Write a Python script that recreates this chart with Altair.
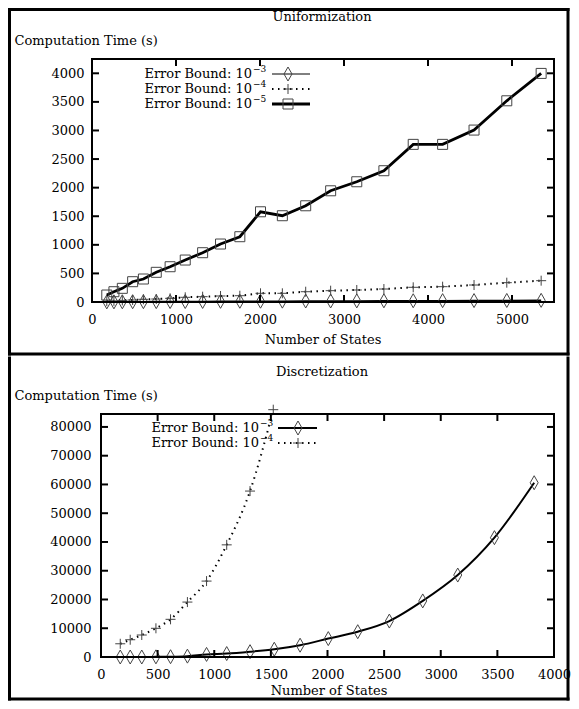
import altair as alt
import pandas as pd

FONT = "DejaVu Serif"
FS = 13

# ---------------- data: Uniformization (top panel) ----------------
uni_states = [176, 261, 361, 484, 612, 765, 930, 1110, 1317, 1530, 1760,
              2006, 2266, 2544, 2841, 3152, 3475, 3824, 4174, 4548, 4938, 5347]
uni_e3 = [2, 3, 4, 5, 6, 7, 8, 9, 10, 12, 13, 14, 15, 17, 18, 19, 21, 22, 24, 25, 27, 29]
uni_e4 = [15, 20, 28, 35, 47, 52, 64, 82, 93, 105, 110, 152, 152, 180, 198, 210,
          227, 257, 268, 297, 338, 373]
uni_e5 = [122, 180, 239, 355, 402, 519, 617, 734, 862, 1014, 1142, 1578, 1509,
          1683, 1945, 2103, 2296, 2757, 2757, 3007, 3519, 3998]
uni_xticks = [0, 1000, 2000, 3000, 4000, 5000]
uni_yticks = [0, 500, 1000, 1500, 2000, 2500, 3000, 3500, 4000]

# ---------------- data: Discretization (bottom panel) ----------------
disc_states = [170, 258, 360, 485, 614, 763, 932, 1110, 1316, 1530, 1758, 2007,
               2267, 2546, 2841, 3150, 3474, 3825]
disc_e3 = [0, 0, 0, 50, 100, 300, 900, 1200, 1850, 2700, 4100, 6400, 8800,
           12500, 19500, 28500, 41500, 60600]
disc_e4_states = [170, 258, 360, 485, 614, 763, 932, 1110, 1316, 1521]
disc_e4 = [4600, 6000, 7650, 9980, 13100, 19100, 26400, 39000, 57700, 86000]
disc_xticks = [0, 500, 1000, 1500, 2000, 2500, 3000, 3500, 4000]
disc_yticks = [0, 10000, 20000, 30000, 40000, 50000, 60000, 70000, 80000]

DIAMOND = "M0,-1L0.57,0L0,1L-0.57,0Z"
PLUS = "M-1,0L1,0M0,-1L0,1"
MCOL = "#444444"
one = pd.DataFrame({"a": [0]})


def txt(s, x, y, size=FS, align="center"):
    return alt.Chart(one).mark_text(text=s, font=FONT, fontSize=size, align=align,
                                    baseline="middle", color="black").encode(
        x=alt.value(x), y=alt.value(y))


def hrule(x1, x2, y, w=2):
    return alt.Chart(one).mark_rule(color="black", strokeWidth=w, strokeCap="square").encode(
        x=alt.value(x1), x2=alt.value(x2), y=alt.value(y))


def vrule(x, y1, y2, w=2):
    return alt.Chart(one).mark_rule(color="black", strokeWidth=w, strokeCap="square").encode(
        x=alt.value(x), y=alt.value(y1), y2=alt.value(y2))


def bar(x1, x2, y1, y2):
    # filled rectangle (no stroke) so that layout bounds are exact
    return alt.Chart(one).mark_rect(color="black", strokeWidth=0).encode(
        x=alt.value(x1), x2=alt.value(x2), y=alt.value(y1), y2=alt.value(y2))


def legend_row(label, sup, y, text_end, lx1, lx2, sx, shape, size, dash=None, lw=1.5):
    layers = [
        txt(label, text_end, y, align="right"),
        txt(sup, text_end + 1, y - 5, size=9, align="left"),
    ]
    lk = dict(color="black", strokeWidth=lw)
    if dash:
        lk["strokeDash"] = dash
    layers.append(alt.Chart(one).mark_rule(**lk).encode(
        x=alt.value(lx1), x2=alt.value(lx2), y=alt.value(y)))
    layers.append(alt.Chart(one).mark_point(shape=shape, size=size, filled=False, color=MCOL,
                                            strokeWidth=1, opacity=1).encode(
        x=alt.value(sx), y=alt.value(y)))
    return layers


def panel(W, H, x0, xdom, ydom, xticks, yticks, series, title, legend, frame,
          xtitle_x, ylabpad, top_panel):
    xs = alt.Scale(domain=xdom, nice=False, zero=False, range=[x0, W])
    ys = alt.Scale(domain=ydom, nice=False, zero=False)
    xaxis = alt.Axis(values=xticks, ticks=False, domain=False, grid=False, labelFont=FONT,
                     labelFontSize=FS, labelColor="black", labelPadding=11, title=None,
                     format="d", labelFlush=False, labelOverlap=False)
    yaxis = alt.Axis(values=yticks, ticks=False, domain=False, grid=False, labelFont=FONT,
                     labelFontSize=FS, labelColor="black", labelPadding=ylabpad, title=None,
                     format="d", labelOverlap=False)
    X = alt.X("states:Q", scale=xs, axis=xaxis)
    Y = alt.Y("time:Q", scale=ys, axis=yaxis)
    layers = []
    for s in series:
        df = pd.DataFrame({"states": s["x"], "time": s["y"]})
        lk = dict(color="black", strokeWidth=s["lw"], interpolate=s["interp"], clip=True)
        if s.get("dash"):
            lk["strokeDash"] = s["dash"]
        layers.append(alt.Chart(df).mark_line(**lk).encode(x=X, y=Y))
        layers.append(alt.Chart(df).mark_point(shape=s["shape"], size=s["size"], filled=False,
                                               color=MCOL, strokeWidth=1, opacity=1).encode(
            x=X, y=Y))
    # inward ticks on all four sides
    xt = pd.DataFrame({"states": xticks})
    yt = pd.DataFrame({"time": yticks})
    layers.append(alt.Chart(xt).mark_rule(color="black", strokeWidth=2).encode(
        x=X, y=alt.value(0), y2=alt.value(7)))
    layers.append(alt.Chart(xt).mark_rule(color="black", strokeWidth=2).encode(
        x=X, y=alt.value(H - 7), y2=alt.value(H)))
    layers.append(alt.Chart(yt).mark_rule(color="black", strokeWidth=2).encode(
        y=Y, x=alt.value(x0), x2=alt.value(x0 + 7)))
    layers.append(alt.Chart(yt).mark_rule(color="black", strokeWidth=2).encode(
        y=Y, x=alt.value(W - 7), x2=alt.value(W)))
    # plot border
    layers.append(vrule(x0, 0, H))
    layers.append(vrule(W, 0, H))
    layers.append(hrule(x0, W, 0))
    layers.append(hrule(x0, W, H))
    # texts
    layers.append(txt(title, frame["tx"], -42))
    layers.append(txt("Computation Time (s)", frame["fl"] + 5, -18, align="left"))
    layers.append(txt("Number of States", xtitle_x, frame["xty"]))
    layers += legend
    # figure frame (3px filled bars)
    fl, fr, ft, fb = frame["fl"], frame["fr"], frame["ft"], frame["fb"]
    if top_panel:
        layers.append(bar(fl - 1.5, fl + 1.5, ft - 1.5, fb + 1.5))
        layers.append(bar(fr - 1.5, fr + 1.5, ft - 1.5, fb + 1.5))
        layers.append(bar(fl - 1.5, fr + 1.5, ft - 1.5, ft + 1.5))
        layers.append(bar(fl - 1.5, fr + 1.5, fb - 1.5, fb + 1.5))
    else:
        layers.append(bar(fl - 1.5, fl + 1.5, ft, fb + 1.5))
        layers.append(bar(fr - 1.5, fr + 1.5, ft, fb + 1.5))
        layers.append(bar(fl - 1.5, fr + 1.5, fb - 1.5, fb + 1.5))
    return alt.layer(*layers).properties(width=W, height=H)


W, H = 462, 243
top_series = [
    dict(x=uni_states, y=uni_e3, lw=1.5, interp="linear", shape=DIAMOND, size=196),
    dict(x=uni_states, y=uni_e4, lw=2, interp="linear", dash=[1.5, 4.5], shape=PLUS, size=100),
    dict(x=uni_states, y=uni_e5, lw=2.8, interp="linear", shape="square", size=100),
]
top_legend = []
top_legend += legend_row("Error Bound: 10", "\u22123", 15, 160, 180, 218, 196, DIAMOND, 196, lw=1)
top_legend += legend_row("Error Bound: 10", "\u22124", 30, 160, 180, 218, 196, PLUS, 100,
                         dash=[1.5, 4.5], lw=2)
top_legend += legend_row("Error Bound: 10", "\u22125", 45, 160, 180, 218, 196, "square", 100,
                         lw=2.8)
top = panel(W, H, 0, [0, 5500], [0, 4250], uni_xticks, uni_yticks, top_series,
            "Uniformization", top_legend,
            dict(fl=-82.5, fr=476, ft=-49.5, fb=295, tx=230, xty=281), 231, 8, True)

bot_series = [
    dict(x=disc_states, y=disc_e3, lw=2, interp="monotone", shape=DIAMOND, size=196),
    dict(x=disc_e4_states, y=disc_e4, lw=2, interp="monotone", dash=[1.5, 4.5], shape=PLUS,
         size=100),
]
bot_legend = []
bot_legend += legend_row("Error Bound: 10", "\u22123", 14, 167, 186, 225, 206, DIAMOND, 196, lw=2)
bot_legend += legend_row("Error Bound: 10", "\u22124", 29, 167, 186, 225, 206, PLUS, 100,
                         dash=[1.5, 4.5], lw=2)
bot = panel(W, H, 9, [0, 4000], [0, 84500], disc_xticks, disc_yticks, bot_series,
            "Discretization", bot_legend,
            dict(fl=-82.5, fr=476, ft=-57.5, fb=285, tx=230, xty=277), 237, 1, False)

chart = alt.vconcat(top, bot, spacing=0).properties(padding=0).configure_view(
    strokeWidth=0)

chart.save("out.html", embed_options={"renderer": "svg", "actions": False})
